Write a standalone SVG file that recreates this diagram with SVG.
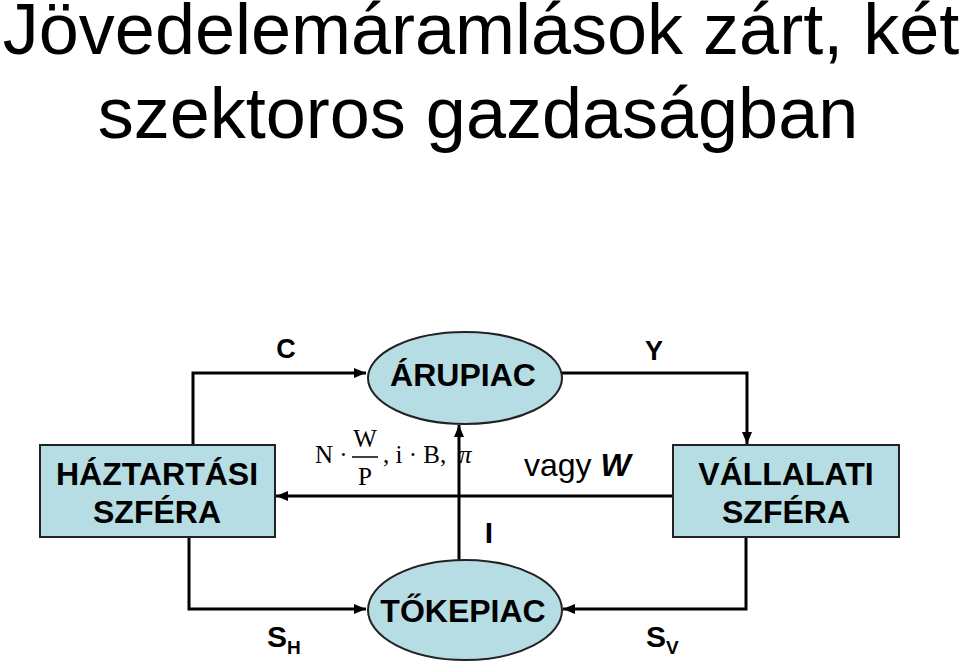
<svg xmlns="http://www.w3.org/2000/svg" width="959" height="662" viewBox="0 0 959 662">
<style>
.title{font-family:"Liberation Sans",Arial,sans-serif;font-size:72px;fill:#000;text-anchor:middle}
.lbl{font-family:"Liberation Sans",Arial,sans-serif;font-weight:bold;font-size:32px;fill:#000;text-anchor:middle}
.flow{font-family:"Liberation Sans",Arial,sans-serif;font-weight:bold;font-size:30px;fill:#000}
.sub{font-family:"Liberation Sans",Arial,sans-serif;font-weight:bold;font-size:19px;fill:#000}
.math{font-family:"Liberation Serif","Times New Roman",serif;font-size:25px;fill:#000}
.node{fill:#b6dde3;stroke:#222;stroke-width:2}
.conn{fill:none;stroke:#000;stroke-width:3}
</style>
<defs>
<marker id="arr" viewBox="0 0 12 10" refX="12" refY="5" markerWidth="12" markerHeight="10" markerUnits="userSpaceOnUse" orient="auto">
<path d="M0,0 L12,5 L0,10 z" fill="#000"/>
</marker>
</defs>
<rect width="959" height="662" fill="#fff"/>
<g id="title">
<text class="title" x="481" y="54">Jövedelemáramlások zárt, két</text>
<text class="title" x="478" y="138">szektoros gazdaságban</text>
</g>
<g id="connectors">
<polyline class="conn" points="193,445 193,373 366,373" marker-end="url(#arr)"/>
<polyline class="conn" points="562,373 747,373 747,444" marker-end="url(#arr)"/>
<line class="conn" x1="673" y1="496" x2="276" y2="496" marker-end="url(#arr)"/>
<line class="conn" x1="459" y1="560" x2="459" y2="425" marker-end="url(#arr)"/>
<polyline class="conn" points="189,537 189,609 366,609" marker-end="url(#arr)"/>
<polyline class="conn" points="746,537 746,609 563,609" marker-end="url(#arr)"/>
</g>
<g id="arupiac">
<ellipse class="node" cx="465" cy="378" rx="97" ry="46"/>
<text class="lbl" x="463" y="386">ÁRUPIAC</text>
</g>
<g id="tokepiac">
<ellipse class="node" cx="465" cy="610" rx="97" ry="50"/>
<text class="lbl" x="463" y="622">TŐKEPIAC</text>
</g>
<g id="haztartasi">
<rect class="node" x="40" y="445" width="235" height="92"/>
<text class="lbl" x="157" y="485">HÁZTARTÁSI</text>
<text class="lbl" x="157" y="523">SZFÉRA</text>
</g>
<g id="vallalati">
<rect class="node" x="673" y="445" width="226" height="92"/>
<text class="lbl" x="786" y="485">VÁLLALATI</text>
<text class="lbl" x="786" y="523">SZFÉRA</text>
</g>
<g id="labels">
<text class="lbl" x="286" y="358" style="font-size:27px">C</text>
<text class="lbl" x="654" y="360" style="font-size:27px">Y</text>
<text class="lbl" x="489" y="543" style="font-size:30px">I</text>
<text class="flow" x="267" y="647">S<tspan class="sub" dy="7">H</tspan></text>
<text class="flow" x="646" y="647">S<tspan class="sub" dy="7">V</tspan></text>
<text x="524" y="476" style="font-family:'Liberation Sans',Arial,sans-serif;font-size:32px">vagy <tspan style="font-weight:bold;font-style:italic">W</tspan></text>
<text class="math" x="315" y="463">N ·</text>
<text class="math" x="365" y="447" text-anchor="middle">W</text>
<line x1="352" y1="457" x2="378" y2="457" stroke="#000" stroke-width="1.5"/>
<text class="math" x="365" y="485" text-anchor="middle">P</text>
<text class="math" x="383" y="463">,  i · B,</text>
<text class="math" x="459" y="463" style="font-style:italic">π</text>
</g>
</svg>
